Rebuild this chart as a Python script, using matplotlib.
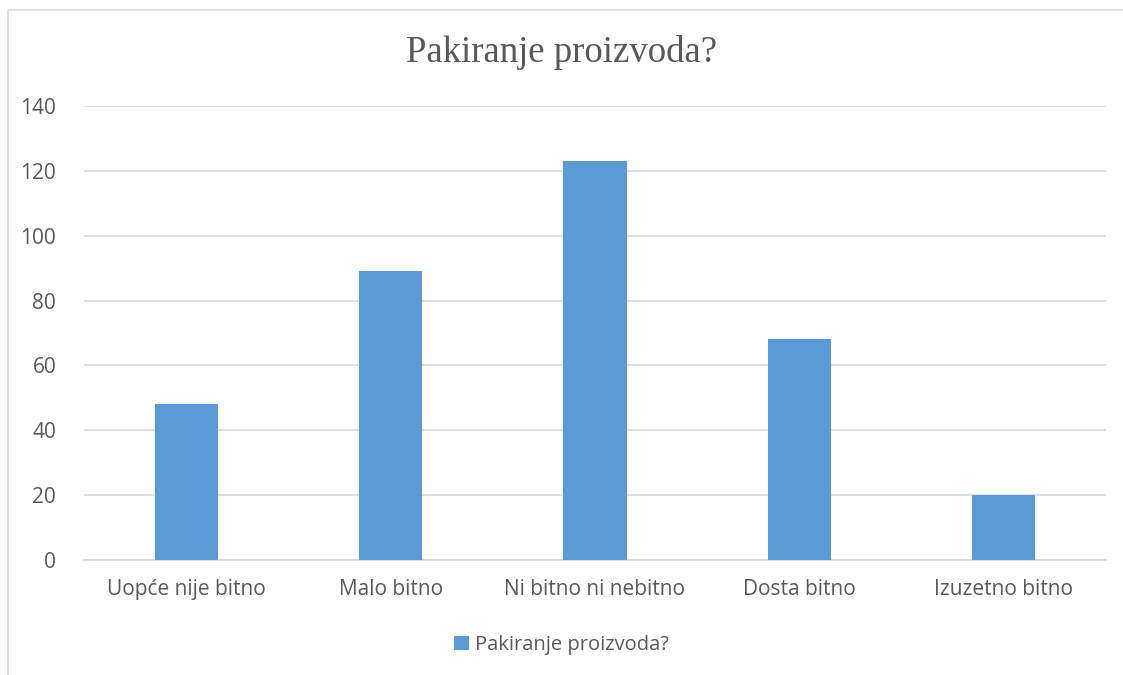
import matplotlib.pyplot as plt
from matplotlib.lines import Line2D

categories = ['Uopće nije bitno', 'Malo bitno', 'Ni bitno ni nebitno', 'Dosta bitno', 'Izuzetno bitno']
values = [48, 89, 123, 68, 20]
series_name = 'Pakiranje proizvoda?'
title = 'Pakiranje proizvoda?'

grey = '#595959'
blue = '#5B9BD5'

fig = plt.figure(figsize=(11.23, 6.75), dpi=100)
ax = fig.add_axes([84 / 1123, 1 - 560 / 675, (1106 - 84) / 1123, (560 - 106) / 675])

x = list(range(len(categories)))
ax.bar(x, values, width=0.31, color=blue, label=series_name, zorder=3)

ax.set_xlim(-0.5, len(categories) - 0.5)
ax.set_ylim(0, 140)
ax.set_yticks(range(0, 141, 20))
ax.set_xticks(x)
ax.set_xticklabels(categories)
ax.grid(axis='y', color='#d9d9d9', linewidth=1.2, zorder=0)
for s in ['top', 'right', 'left']:
    ax.spines[s].set_visible(False)
ax.spines['bottom'].set_color('#d9d9d9')
ax.spines['bottom'].set_linewidth(1.2)
ax.tick_params(length=0, labelsize=15, labelcolor=grey, pad=14)
ax.tick_params(axis='y', pad=20)
for lbl in ax.get_xticklabels() + ax.get_yticklabels():
    lbl.set_family('Open Sans')

fig.text(0.5, 1 - 53 / 675, title, ha='center', va='center', fontsize=26.5,
         family='Liberation Serif', color=grey)

leg = fig.legend(loc='center', bbox_to_anchor=(0.5, 1 - 645 / 675), frameon=False,
                 handlelength=0.7, handleheight=0.7, handletextpad=0.3,
                 prop={'family': 'Open Sans', 'size': 14.5})
for t in leg.get_texts():
    t.set_color(grey)

# chart border, only left and top show in the crop
bx = 8 / 1123
by = 1 - 10 / 675
fig.lines.append(Line2D([bx, bx, 1.0], [0.0, by, by], transform=fig.transFigure,
                        color='#d9d9d9', linewidth=1.2))

fig.savefig('out.png', dpi=100)
